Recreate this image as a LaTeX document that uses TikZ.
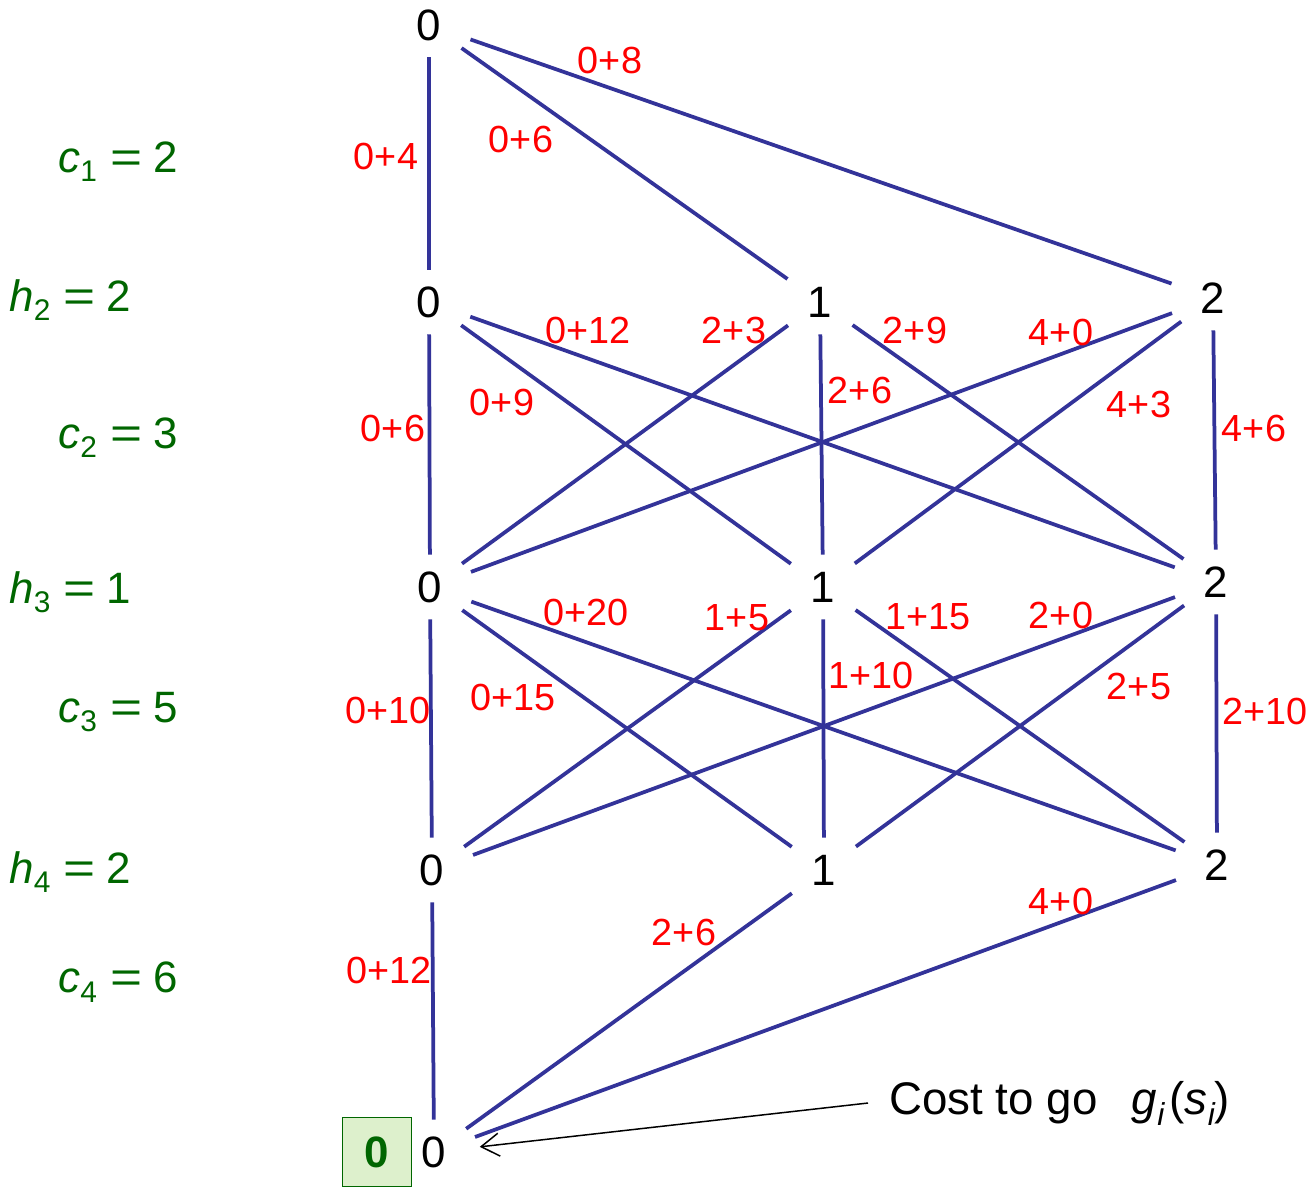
\documentclass[tikz,border=0pt]{standalone}
\usepackage{fontspec}
\setmainfont{Liberation Sans}
\usetikzlibrary{arrows.meta,shapes.geometric}
\definecolor{edgeBlue}{HTML}{333399}
\definecolor{costRed}{HTML}{FF0000}
\definecolor{stageGreen}{HTML}{006600}
\definecolor{boxGreen}{HTML}{DDF0CC}
\newcommand{\stageval}[3]{\textit{#1}\raisebox{-0.4ex}{\fontsize{17}{17}\selectfont #2}\hspace{0.3em}\scalebox{1.25}[1]{=}\hspace{0.25em}#3}

\begin{document}
\begin{tikzpicture}[x=0.02cm, y=-0.02cm,
    state/.style={ellipse, inner sep=0pt, minimum width=1.84cm, minimum height=1.28cm, font=\fontsize{25}{29}\selectfont},
    cost/.style={text=costRed, inner sep=0pt, font=\fontsize{21.5}{25}\selectfont},
    stagelbl/.style={anchor=west, inner sep=0pt, text=stageGreen, font=\fontsize{25}{29}\selectfont},
    edge/.style={draw=edgeBlue, line width=0.075cm},
    pointer/.style={-{Straight Barb[length=0.36cm,width=0.46cm]}, line width=0.03cm}
  ]
    \useasboundingbox (0,0) rectangle (1310,1188);
    % states of each stage
    \node[state] (s00) at (429,25) {0};
    \node[state] (s10) at (429,302) {0};
    \node[state] (s11) at (820,302) {1};
    \node[state] (s12) at (1213,298) {2};
    \node[state] (s20) at (430,587) {0};
    \node[state] (s21) at (823,587) {1};
    \node[state] (s22) at (1216,582) {2};
    \node[state] (s30) at (432,870) {0};
    \node[state] (s31) at (824,870) {1};
    \node[state] (s32) at (1217,865) {2};
    \node[state] (s40) at (434,1152) {0};

    % transitions
    \draw[edge] (s00) -- (s10);  \draw[edge] (s00) -- (s11);  \draw[edge] (s00) -- (s12);
    \draw[edge] (s10) -- (s20);  \draw[edge] (s10) -- (s21);  \draw[edge] (s10) -- (s22);
    \draw[edge] (s11) -- (s20);  \draw[edge] (s11) -- (s21);  \draw[edge] (s11) -- (s22);
    \draw[edge] (s12) -- (s20);  \draw[edge] (s12) -- (s21);  \draw[edge] (s12) -- (s22);
    \draw[edge] (s20) -- (s30);  \draw[edge] (s20) -- (s31);  \draw[edge] (s20) -- (s32);
    \draw[edge] (s21) -- (s30);  \draw[edge] (s21) -- (s31);  \draw[edge] (s21) -- (s32);
    \draw[edge] (s22) -- (s30);  \draw[edge] (s22) -- (s31);  \draw[edge] (s22) -- (s32);
    \draw[edge] (s30) -- (s40);  \draw[edge] (s31) -- (s40);  \draw[edge] (s32) -- (s40);

    % costs
    \node[cost] (k00-10) at (386,156) {0+4};
    \node[cost] (k00-11) at (521,139) {0+6};
    \node[cost] (k00-12) at (610,60) {0+8};
    \node[cost] (k10-20) at (393,428) {0+6};
    \node[cost] (k10-21) at (502,402) {0+9};
    \node[cost] (k10-22) at (588,330) {0+12};
    \node[cost] (k11-20) at (734,330) {2+3};
    \node[cost] (k11-21) at (860,390) {2+6};
    \node[cost] (k11-22) at (915,330) {2+9};
    \node[cost] (k12-20) at (1061,332) {4+0};
    \node[cost] (k12-21) at (1139,404) {4+3};
    \node[cost] (k12-22) at (1254,428) {4+6};
    \node[cost] (k20-30) at (388,710) {0+10};
    \node[cost] (k20-31) at (513,697) {0+15};
    \node[cost] (k20-32) at (586,612) {0+20};
    \node[cost] (k21-30) at (737,618) {1+5};
    \node[cost] (k21-31) at (871,675) {1+10};
    \node[cost] (k21-32) at (928,617) {1+15};
    \node[cost] (k22-30) at (1061,615) {2+0};
    \node[cost] (k22-31) at (1139,686) {2+5};
    \node[cost] (k22-32) at (1265,711) {2+10};
    \node[cost] (k30-40) at (389,970) {0+12};
    \node[cost] (k31-40) at (684,932) {2+6};
    \node[cost] (k32-40) at (1061,901) {4+0};

    % stage parameters
    \node[stagelbl] (c1) at (58,162) {\stageval{c}{1}{2}};
    \node[stagelbl] (h2) at (9,300) {\stageval{h}{2}{2}};
    \node[stagelbl] (c2) at (58,438) {\stageval{c}{2}{3}};
    \node[stagelbl] (h3) at (9,592) {\stageval{h}{3}{1}};
    \node[stagelbl] (c3) at (58,712) {\stageval{c}{3}{5}};
    \node[stagelbl] (h4) at (9,872) {\stageval{h}{4}{2}};
    \node[stagelbl] (c4) at (58,982) {\stageval{c}{4}{6}};

    % terminal cost
    \node[draw=stageGreen, fill=boxGreen, line width=0.03cm, minimum size=1.38cm, inner sep=0pt,
      text=stageGreen, font=\fontsize{25}{29}\selectfont\bfseries] (g40) at (377,1152) {0};
    \node[anchor=west, inner sep=0pt, font=\fontsize{26}{30}\selectfont] (togo) at (889,1103)
      {Cost to go\hspace{0.75em}\textit{g}\raisebox{-0.45ex}{\fontsize{18}{18}\selectfont\itshape i}\hspace{0.12em}(\textit{s}\raisebox{-0.45ex}{\fontsize{18}{18}\selectfont\itshape i})};
    \draw[pointer] ([xshift=-0.42cm]togo.west) -- (s40);
  \end{tikzpicture}
\end{document}
